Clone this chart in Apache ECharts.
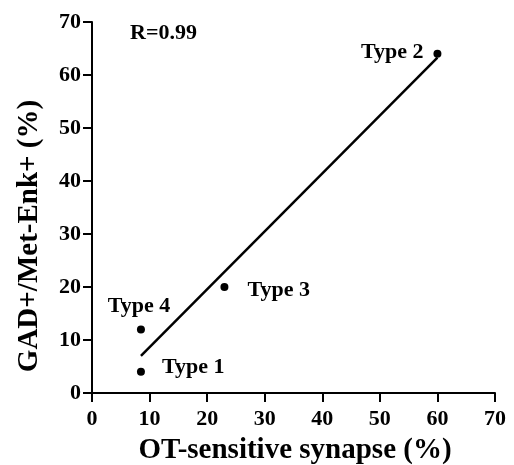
<!DOCTYPE html>
<html>
<head>
<meta charset="utf-8">
<script src="https://cdn.jsdelivr.net/npm/echarts@6/dist/echarts.min.js"></script>
<style>html,body{margin:0;padding:0;background:#fff;}#c{width:514px;height:465px;}</style>
</head>
<body>
<div id="c"></div>
<script>
const typeNames = ['Type 1', 'Type 4', 'Type 3', 'Type 2'];
const otSensitive = [8.5, 8.5, 23, 60];
const gadMetEnk = [4, 12, 20, 64];
const fitLineX = [8.5, 60];
const fitLineY = [7, 63.3];
const rText = 'R=0.99';
const xTitle = 'OT-sensitive synapse (%)';
const yTitle = 'GAD+/Met-Enk+ (%)';

const FONT = 'Liberation Serif';
const labelPos = {
  'Type 1': {position: 'right', distance: 17, offset: [0, -4]},
  'Type 4': {position: 'top', distance: 8, offset: [-2, 0]},
  'Type 3': {position: 'right', distance: 19, offset: [0, 3]},
  'Type 2': {position: 'left', distance: 10, offset: [0, -1]}
};

const points = typeNames.map((n, i) => ({
  value: [otSensitive[i], gadMetEnk[i]],
  name: n,
  label: Object.assign({
    show: true, formatter: n, color: '#000', fontFamily: FONT,
    fontWeight: 'bold', fontSize: 22, textBorderWidth: 0, opacity: 1
  }, labelPos[n])
}));
const fit = fitLineX.map((x, i) => [x, fitLineY[i]]);

const chart = echarts.init(document.getElementById('c'), null, {renderer: 'canvas'});
const axisCommon = {
  type: 'value', min: 0, max: 70, interval: 10,
  axisLine: {show: true, onZero: false, lineStyle: {color: '#000', width: 2}},
  axisTick: {show: true, inside: false, length: 9, lineStyle: {color: '#000', width: 2}},
  splitLine: {show: false}
};
chart.setOption({
  animation: false,
  backgroundColor: '#fff',
  grid: {left: 92, right: 19, top: 22, bottom: 72, containLabel: false},
  xAxis: Object.assign({}, axisCommon, {
    axisLabel: {fontFamily: FONT, fontWeight: 'bold', fontSize: 22, color: '#000', margin: 15}
  }),
  yAxis: Object.assign({}, axisCommon, {
    axisLabel: {fontFamily: FONT, fontWeight: 'bold', fontSize: 22, color: '#000', margin: 11}
  }),
  graphic: [
    {
      type: 'text', x: 130, y: 33,
      style: {text: rText, font: 'bold 22px "Liberation Serif"', fill: '#000', verticalAlign: 'middle'}
    },
    {
      type: 'text', x: 295, y: 451,
      style: {text: xTitle, font: 'bold 29px "Liberation Serif"', fill: '#000', align: 'center', verticalAlign: 'middle'}
    },
    {
      type: 'text', x: 30, y: 236, rotation: Math.PI / 2,
      style: {text: yTitle, font: 'bold 29px "Liberation Serif"', fill: '#000', align: 'center', verticalAlign: 'middle'}
    }
  ],
  series: [
    {
      type: 'line', data: fit, symbol: 'none',
      lineStyle: {color: '#000', width: 2.5, opacity: 1}, silent: true
    },
    {
      type: 'scatter', data: points, symbol: 'circle', symbolSize: 8,
      itemStyle: {color: '#000', opacity: 1}
    }
  ]
});
</script>
</body>
</html>
